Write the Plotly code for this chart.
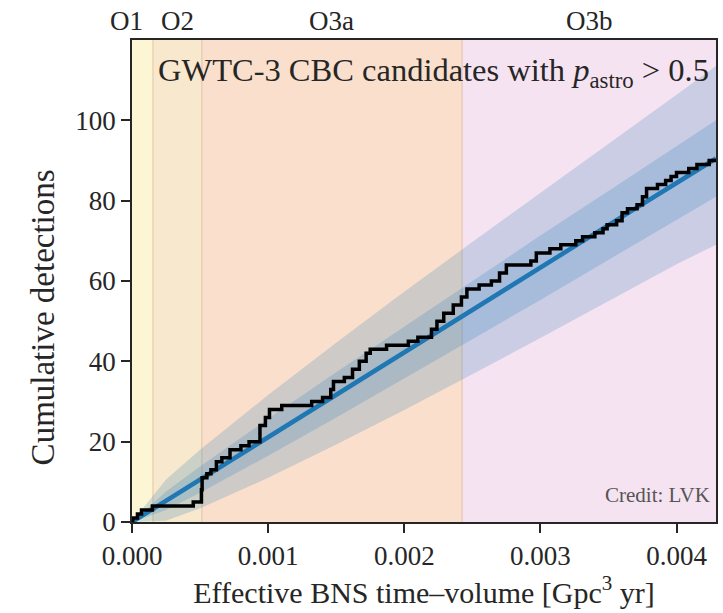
import plotly.graph_objects as go

# ---- data ----
x_max = 0.00429
y_max = 120

run_names = ["O1", "O2", "O3a", "O3b"]
run_starts = [0.0, 0.000154, 0.000513, 0.002425]
run_ends = [0.000154, 0.000513, 0.002425, x_max]
run_colors = ["#fcf6d4", "#f8e8cd", "#f9dfcc", "#f6e3f1"]
run_label_shift = [-16, 0, 0, 0]

# cumulative detections (step knots)
cum_x = [0.0, 0.000005, 0.00004, 0.00007, 0.00015, 0.00045, 0.00051, 0.000515,
         0.00055, 0.00058, 0.00062, 0.00066, 0.00072, 0.00080, 0.00086, 0.00094,
         0.00098, 0.00101, 0.00110, 0.00132, 0.00140, 0.00146, 0.00148, 0.00156,
         0.00162, 0.00167, 0.00172, 0.00175, 0.00187, 0.00203, 0.00210, 0.00220,
         0.00224, 0.00229, 0.00236, 0.00242, 0.00246, 0.00255, 0.00264, 0.00270,
         0.00275, 0.00293, 0.00297, 0.00307, 0.00315, 0.00326, 0.00331, 0.00340,
         0.00346, 0.00349, 0.00356, 0.00360, 0.00364, 0.00371, 0.00375, 0.00378,
         0.00386, 0.00392, 0.00396, 0.00400, 0.00409, 0.00415, 0.00424, 0.00429]
cum_y = [0, 1, 2, 3, 4, 5, 8, 11,
         12, 13, 15, 16, 18, 19, 20, 24,
         26, 28, 29, 30, 31, 33, 35, 36,
         38, 40, 42, 43, 44, 45, 46, 48,
         50, 52, 54, 56, 58, 59, 60, 62,
         64, 65, 67, 68, 69, 70, 71, 72,
         73, 74, 75, 77, 78, 79, 81, 83,
         84, 85, 86, 87, 88, 89, 90, 90]

# expected detections and uncertainty bands
band_x = [0.0, 0.00025, 0.0005, 0.001, 0.0015, 0.002, 0.0025, 0.003, 0.0035, 0.004, 0.00429]
expected = [0, 5.3, 10.6, 21.1, 31.7, 42.2, 52.8, 63.3, 73.9, 84.4, 90.5]
inner_lo = [0, 3.0, 7.3, 16.5, 26.0, 35.7, 45.5, 55.3, 65.3, 75.2, 81.0]
inner_hi = [0, 7.6, 13.8, 25.7, 37.3, 48.7, 60.0, 71.3, 82.4, 93.6, 100.0]
outer_lo = [0, 0.3, 3.4, 11.0, 19.3, 27.9, 36.8, 45.8, 54.9, 64.2, 69.0]
outer_hi = [0, 10.6, 18.0, 31.6, 44.6, 57.3, 69.7, 82.0, 94.3, 106.4, 113.5]

x_ticks = [0.0, 0.001, 0.002, 0.003, 0.004]
y_ticks = [0, 20, 40, 60, 80, 100]

FONT = "Liberation Serif"
TXT = "#262626"
BAND = "rgba(31,119,180,0.2)"

fig = go.Figure()

# bands
fig.add_trace(go.Scatter(x=band_x + band_x[::-1], y=outer_hi + outer_lo[::-1],
                         fill="toself", fillcolor=BAND, line=dict(width=0),
                         mode="lines", hoverinfo="skip", showlegend=False))
fig.add_trace(go.Scatter(x=band_x + band_x[::-1], y=inner_hi + inner_lo[::-1],
                         fill="toself", fillcolor=BAND, line=dict(width=0),
                         mode="lines", hoverinfo="skip", showlegend=False))
# expected
fig.add_trace(go.Scatter(x=band_x, y=expected, mode="lines",
                         line=dict(color="#1f77b4", width=4.5), showlegend=False))
# observed
fig.add_trace(go.Scatter(x=cum_x, y=cum_y, mode="lines",
                         line=dict(color="black", width=3.5, shape="hv"),
                         showlegend=False))

shapes = []
annotations = []
for name, s, e, c, sh in zip(run_names, run_starts, run_ends, run_colors, run_label_shift):
    shapes.append(dict(type="rect", xref="x", yref="paper", x0=s, x1=e, y0=0, y1=1,
                       fillcolor=c, line=dict(width=0), layer="below"))
    if s > 0:
        shapes.append(dict(type="line", xref="x", yref="paper", x0=s, x1=s, y0=0, y1=1,
                           line=dict(color="rgba(210,170,140,0.6)", width=1), layer="below"))
    annotations.append(dict(text=name, xref="x", yref="paper", x=(s + e) / 2, y=1,
                            xanchor="center", yanchor="bottom", yshift=2, xshift=sh,
                            showarrow=False, font=dict(family=FONT, size=27, color=TXT)))

annotations.append(dict(text="GWTC-3 CBC candidates with <i>p</i><sub>astro</sub> > 0.5",
                        xref="paper", yref="paper", x=0.517, y=0.932,
                        xanchor="center", yanchor="middle", showarrow=False,
                        font=dict(family=FONT, size=32.5, color=TXT)))
annotations.append(dict(text="Credit: LVK", xref="paper", yref="paper", x=0.994, y=0.056,
                        xanchor="right", yanchor="middle", showarrow=False,
                        font=dict(family=FONT, size=21, color="#555")))
# y-axis title (placed as in the reference, slightly below the axis centre)
annotations.append(dict(text="Cumulative detections", xref="paper", yref="paper",
                        x=-0.152, y=0.425, xanchor="center", yanchor="middle",
                        textangle=-90, showarrow=False,
                        font=dict(family=FONT, size=33, color=TXT)))

fig.update_layout(
    width=723, height=613,
    margin=dict(l=132, r=5, t=40, b=91),
    paper_bgcolor="white", plot_bgcolor="white",
    shapes=shapes, annotations=annotations,
    font=dict(family=FONT, size=27, color=TXT),
    xaxis=dict(range=[0, x_max], tickvals=x_ticks, tickformat=".3f",
               ticks="outside", ticklen=9, tickwidth=1.5, tickcolor=TXT,
               tickfont=dict(family=FONT, size=27, color=TXT),
               showline=True, linecolor=TXT, linewidth=1.5, mirror=True,
               showgrid=False, zeroline=False,
               title=dict(text="Effective BNS time–volume [Gpc<sup>3</sup> yr]",
                          font=dict(family=FONT, size=30, color=TXT), standoff=8)),
    yaxis=dict(range=[0, y_max], tickvals=y_ticks,
               ticks="outside", ticklen=9, tickwidth=1.5, tickcolor=TXT,
               tickfont=dict(family=FONT, size=27, color=TXT),
               showline=True, linecolor=TXT, linewidth=1.5, mirror=True,
               showgrid=False, zeroline=False),
)

fig.write_html("out.html")
